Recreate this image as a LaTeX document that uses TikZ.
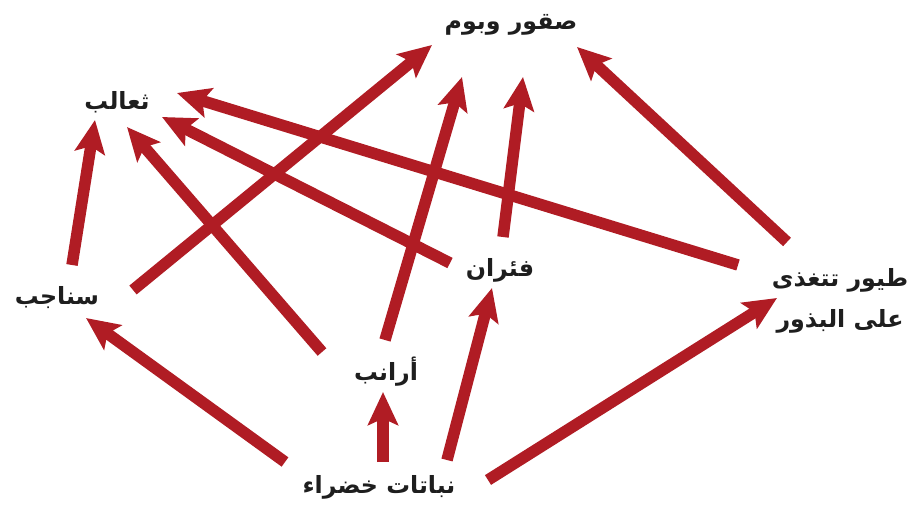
\documentclass[tikz,border=0pt]{standalone}
\usepackage{fontspec}
\newfontfamily\arabicfont[Script=Arabic]{DejaVu Sans}
\TeXXeTstate=1
\usetikzlibrary{arrows.meta}
\definecolor{chainred}{RGB}{176,28,36}
\definecolor{labelgray}{RGB}{30,30,30}

\begin{document}
\begin{tikzpicture}[
    x=0.02cm, y=-0.02cm,
    animal/.style={inner sep=0pt, align=center, text=labelgray,
        font=\arabicfont\bfseries\fontsize{13.5}{23}\selectfont},
    feed/.style={-{Stealth[length=0.66cm, width=0.6cm, inset=0.13cm]}, line width=0.23cm, draw=chainred}
]
\useasboundingbox (0,0) rectangle (909,510);

\node[animal] (hawks)     at (511,25)  {\beginR صقور وبوم\endR};
\node[animal] (foxes)     at (117,102) {\beginR ثعالب\endR};
\node[animal] (squirrels) at (57,298)  {\beginR سناجب\endR};
\node[animal] (mice)      at (500,270) {\beginR فئران\endR};
\node[animal] (rabbits)   at (386,372) {\beginR أرانب\endR};
\node[animal] (plants)    at (379,487) {\beginR نباتات خضراء\endR};
\node[animal] (birds)     at (840,301) {\beginR طيور تتغذى\endR\\\beginR على البذور\endR};

% from plants
\draw[feed] ([shift={(-94,-25)}]plants.center) -- ([shift={(29,20)}]squirrels.center);
\draw[feed] ([shift={(4,-25)}]plants.center) -- ([shift={(-3,20)}]rabbits.center);
\draw[feed] ([shift={(68,-27)}]plants.center) -- ([shift={(-8,18)}]mice.center);
\draw[feed] ([shift={(109,-7)}]plants.center) -- ([shift={(-63,-3)}]birds.center);
% from squirrels and rabbits
\draw[feed] ([shift={(15,-33)}]squirrels.center) -- ([shift={(-22,18)}]foxes.center);
\draw[feed] ([shift={(76,-8)}]squirrels.center) -- ([shift={(-79,20)}]hawks.center);
\draw[feed] ([shift={(-64,-20)}]rabbits.center) -- ([shift={(10,25)}]foxes.center);
\draw[feed] ([shift={(-1,-32)}]rabbits.center) -- ([shift={(-49,52)}]hawks.center);
% from mice and birds
\draw[feed] ([shift={(-50,-7)}]mice.center) -- ([shift={(45,15)}]foxes.center);
\draw[feed] ([shift={(3,-33)}]mice.center) -- ([shift={(12,52)}]hawks.center);
\draw[feed] ([shift={(-102,-36)}]birds.center) -- ([shift={(60,-9)}]foxes.center);
\draw[feed] ([shift={(-53,-59)}]birds.center) -- ([shift={(66,22)}]hawks.center);
\end{tikzpicture}
\end{document}
